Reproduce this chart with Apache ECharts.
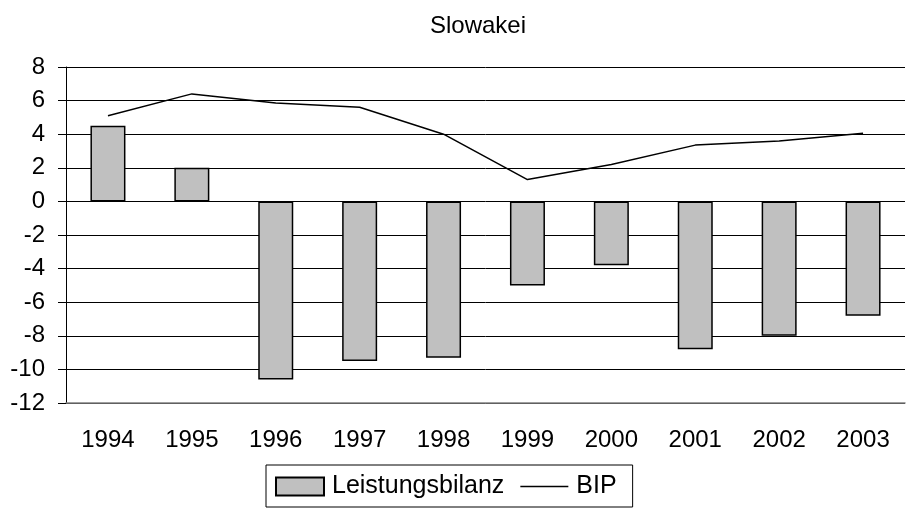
<!DOCTYPE html>
<html><head><meta charset="utf-8">
<script src="https://cdn.jsdelivr.net/npm/echarts@6/dist/echarts.min.js"></script>
<style>html,body{margin:0;padding:0;background:#fff}#c{width:910px;height:513px}</style>
</head><body><div id="c"></div>
<script>
var years = ['1994','1995','1996','1997','1998','1999','2000','2001','2002','2003'];
var leistungsbilanz = [4.5, 2.0, -10.6, -9.5, -9.3, -5.0, -3.8, -8.8, -8.0, -6.8];
var bip = [5.1, 6.4, 5.85, 5.6, 4.0, 1.3, 2.2, 3.35, 3.6, 4.05];
var seriesNames = ['Leistungsbilanz', 'BIP'];
var titleText = 'Slowakei';

var chart = echarts.init(document.getElementById('c'));
var font = 'Liberation Sans, Arial, sans-serif';
chart.setOption({
  backgroundColor: '#fff',
  animation: false,
  title: { text: titleText, left: 473, top: 9, textAlign: 'center',
    textStyle: { fontFamily: font, fontSize: 24, fontWeight: 'normal', color: '#000' } },
  grid: { left: 66, right: 5, top: 67, bottom: 110, containLabel: false },
  legend: {
    left: 266, top: 465, orient: 'horizontal',
    data: [
      { name: seriesNames[0], icon: 'rect' },
      { name: seriesNames[1], icon: 'path://M0,0H96V3H0Z' }
    ],
    symbolKeepAspect: true,
    borderColor: '#000', borderWidth: 1,
    padding: [9, 16, 8, 9],
    itemWidth: 48, itemHeight: 18, itemGap: 16,
    textStyle: { fontFamily: font, fontSize: 25, color: '#000', padding: [0,0,0,3] }
  },
  xAxis: {
    type: 'category', data: years,
    axisLine: { onZero: false, lineStyle: { color: '#808080', width: 1.5 } },
    axisTick: { show: false },
    axisLabel: { fontFamily: font, fontSize: 24, color: '#000', margin: 25 }
  },
  yAxis: {
    type: 'value', min: -12, max: 8, interval: 2,
    axisLine: { show: true, lineStyle: { color: '#000', width: 1 } },
    axisTick: { show: true, length: 8, lineStyle: { color: '#000' } },
    axisLabel: { fontFamily: font, fontSize: 24, color: '#000', margin: 21 },
    splitLine: { lineStyle: { color: '#000', width: 1 } }
  },
  series: [
    { name: seriesNames[0], type: 'bar', data: leistungsbilanz, barWidth: 35,
      itemStyle: { color: '#c0c0c0', borderColor: '#000', borderWidth: 1.5 } },
    { name: seriesNames[1], type: 'line', data: bip, symbol: 'none',
      lineStyle: { color: '#000', width: 1.5 }, itemStyle: { color: '#000' } }
  ]
});
</script></body></html>
